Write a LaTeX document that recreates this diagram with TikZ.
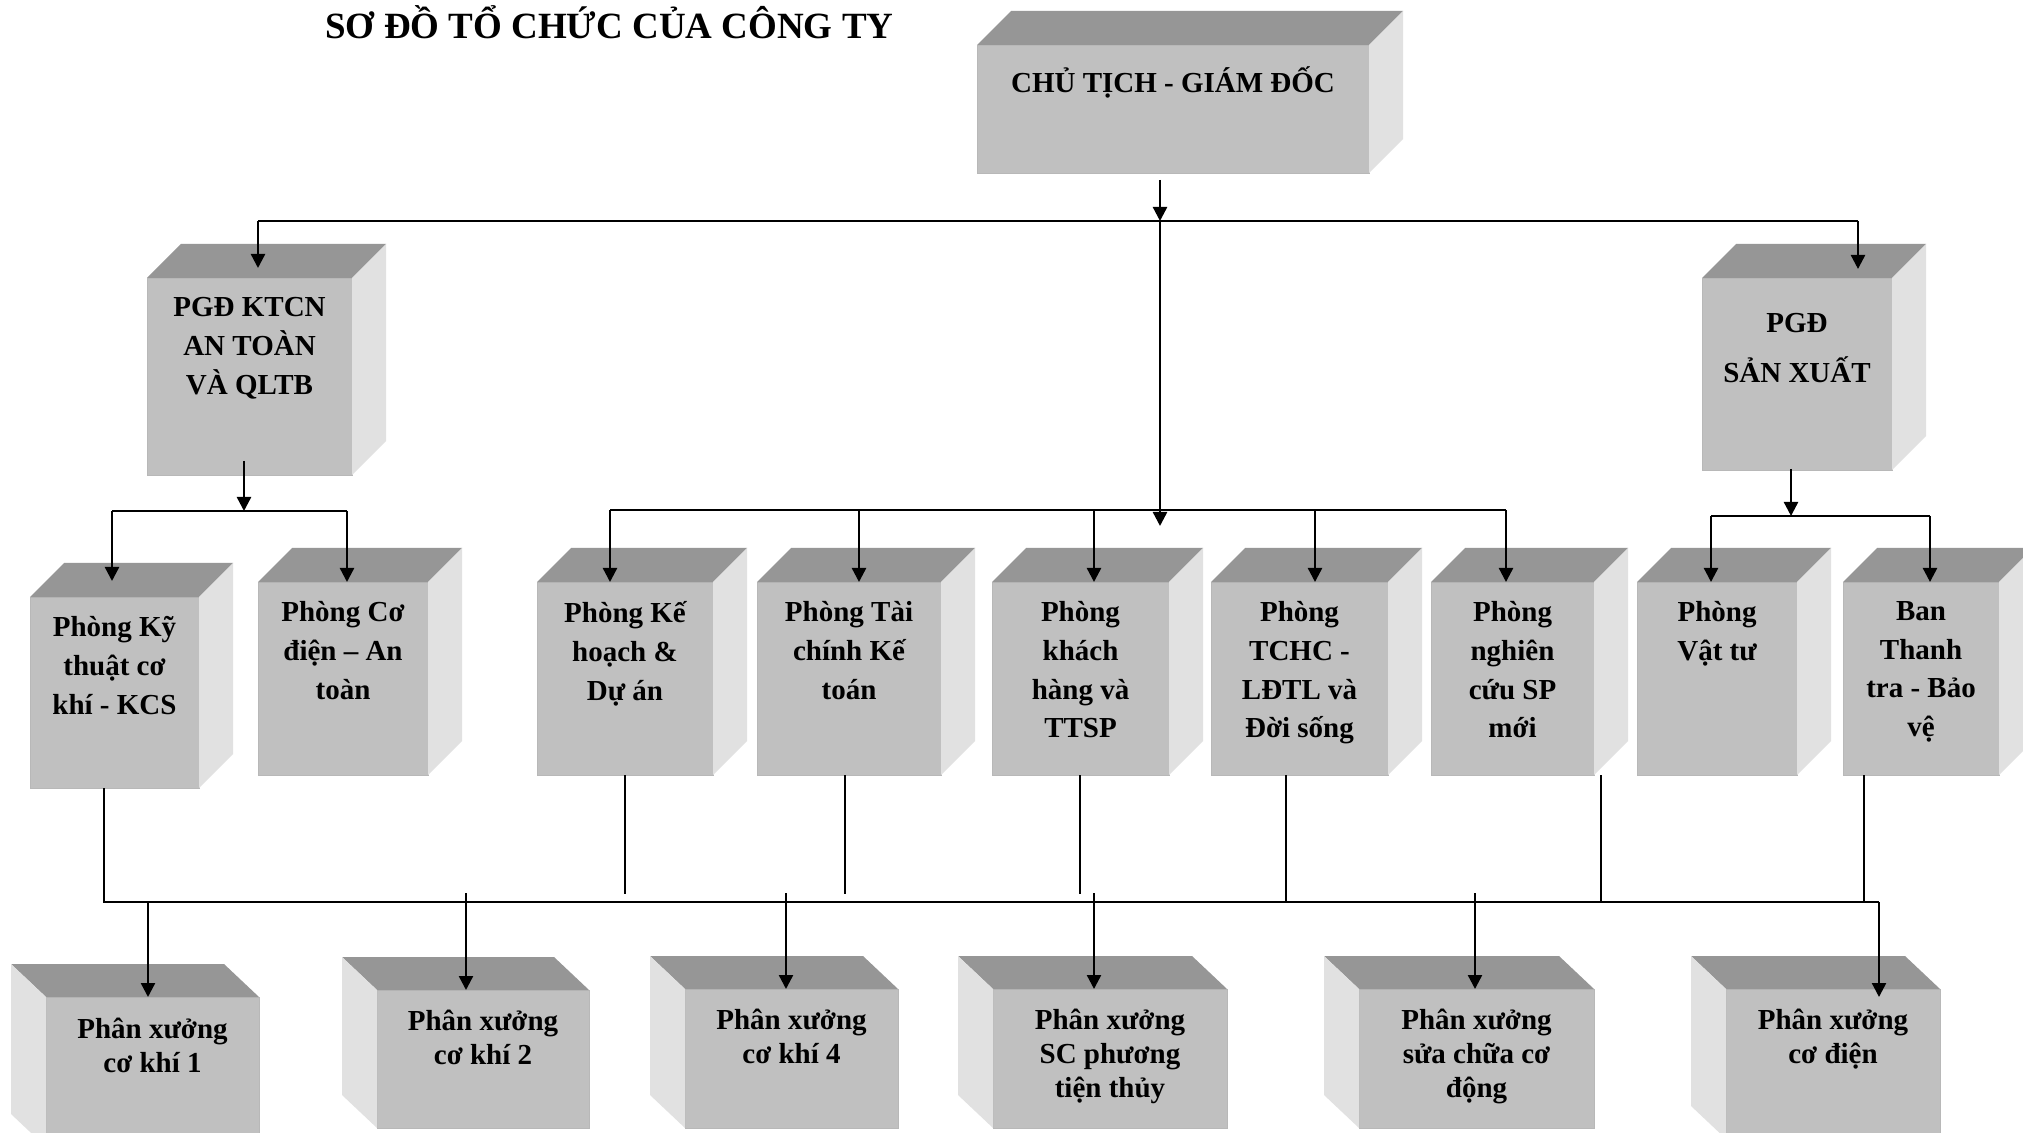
\documentclass[tikz,border=0pt]{standalone}
\usepackage{fontspec}
\setmainfont{Liberation Serif}
\usetikzlibrary{calc}
\usetikzlibrary{arrows.meta}

\definecolor{facefront}{HTML}{C0C0C0}
\definecolor{facetop}{HTML}{969696}
\definecolor{faceside}{HTML}{E1E1E1}

\tikzset{
  front/.style={fill=facefront, draw=black!28, line width=0.4pt, inner sep=0pt, outer sep=0pt},
  topface/.style={fill=facetop},
  sideface/.style={fill=faceside},
  lbl/.style={font=\fontsize{14.5}{19.4}\selectfont\bfseries, align=center, inner sep=0pt,
    execute at begin node={\rule{0pt}{14pt}}},
  lblb/.style={font=\fontsize{14.5}{17}\selectfont\bfseries, align=center, inner sep=0pt,
    execute at begin node={\rule{0pt}{14pt}}},
  ln/.style={line width=1.2pt},
  thinln/.style={line width=0.8pt},
  arr/.style={line width=1.2pt, -{Triangle[length=7pt,width=7pt]}},
}

% box, side face on the right: [text drop]{name}{x}{y}{w}{h}{text}
\newcommand{\cubeR}[7][39]{%
  \node[front, anchor=north west, minimum width=#5*0.5pt, minimum height=#6*0.5pt] (#2) at (#3,#4) {};
  \fill[topface] (#2.north west) -- ++(34,-34) -- ++(#5,0) -- (#2.north east) -- cycle;
  \fill[sideface] (#2.north east) -- ++(34,-34) -- ++(0,#6) -- (#2.south east) -- cycle;
  \node[lbl, anchor=north] (#2t) at ($(#2.north)+(0,#1-20)$) {#7};
}
% box, side face on the left (bottom row)
\newcommand{\cubeL}[7][40]{%
  \node[front, anchor=north west, minimum width=#5*0.5pt, minimum height=#6*0.5pt] (#2) at (#3,#4) {};
  \fill[topface] (#2.north east) -- ++(-35,-33) -- ++(-#5,0) -- (#2.north west) -- cycle;
  \fill[sideface] (#2.north west) -- ++(-35,-33) -- ++(0,#6) -- (#2.south west) -- cycle;
  \node[lblb, anchor=north] (#2t) at ($(#2.north)+(0,#1-20)$) {#7};
}

\begin{document}
\begin{tikzpicture}[x=0.5pt,y=-0.5pt]
  \fill[white] (0,0) rectangle (2023,1133);
  \useasboundingbox (0,0) rectangle (2023,1133);

  \node[font=\fontsize{18.5}{22}\selectfont\bfseries, anchor=base west, inner sep=0pt] (title) at (325,39) {SƠ ĐỒ TỔ CHỨC CỦA CÔNG TY};

  % top
  \cubeR{ct}{977}{45}{392}{128}{CHỦ TỊCH - GIÁM ĐỐC}
  \cubeR{pgdk}{147}{278}{205}{197}{PGĐ KTCN\\AN TOÀN\\VÀ QLTB}
  \cubeR[55]{pgds}{1702}{278}{190}{192}{PGĐ\\[5.5pt]SẢN XUẤT}

  % phong ban
  \cubeR{pkt}{30}{597}{169}{191}{Phòng Kỹ\\thuật cơ\\khí - KCS}
  \cubeR{pcd}{258}{582}{170}{193}{Phòng Cơ\\điện – An\\toàn}
  \cubeR{pkh}{537}{582}{176}{193}{Phòng Kế\\hoạch \&\\Dự án}
  \cubeR{ptc}{757}{582}{184}{193}{Phòng Tài\\chính Kế\\toán}
  \cubeR{pkhg}{992}{582}{177}{193}{Phòng\\khách\\hàng và\\TTSP}
  \cubeR{ptchc}{1211}{582}{177}{193}{Phòng\\TCHC -\\LĐTL và\\Đời sống}
  \cubeR{pnc}{1431}{582}{163}{193}{Phòng\\nghiên\\cứu SP\\mới}
  \cubeR{pvt}{1637}{582}{160}{193}{Phòng\\Vật tư}
  \cubeR{btt}{1843}{582}{156}{193}{Ban\\Thanh\\tra - Bảo\\vệ}

  % phan xuong
  \cubeL[41]{px1}{46}{997}{213}{150}{Phân xưởng\\cơ khí 1}
  \cubeL{px2}{377}{990}{212}{138}{Phân xưởng\\cơ khí 2}
  \cubeL{px4}{685}{989}{213}{139}{Phân xưởng\\cơ khí 4}
  \cubeL{pxsc}{993}{989}{234}{139}{Phân xưởng\\SC phương\\tiện thủy}
  \cubeL{pxscd}{1359}{989}{235}{139}{Phân xưởng\\sửa chữa cơ\\động}
  \cubeL{pxcd}{1726}{989}{214}{150}{Phân xưởng\\cơ điện}

  % from the director
  \coordinate (j0) at (1160,221);
  \coordinate (busL1) at (258,221);
  \coordinate (busR1) at (1858,221);
  \coordinate (midtip) at (1160,526);
  \draw[arr] ($(j0 |- ct.south)+(0,7)$) -- (j0);
  \draw[ln] (busL1) -- (busR1);
  \draw[arr] (busL1) -- ($(pgdk.north -| busL1)+(0,-10)$);
  \draw[arr] (busR1) -- ($(pgds.north -| busR1)+(0,-9)$);
  \draw[arr] (j0) -- (midtip);

  % middle bracket
  \draw[ln] (610,510) -- (1506,510);
  \foreach \n/\x in {pkh/610, ptc/859, pkhg/1094, ptchc/1315, pnc/1506}
    \draw[arr] (\x,510) -- (\n.north -| \x,510);

  % left bracket
  \coordinate (bl0) at (244,511);
  \draw[arr] ($(bl0 |- pgdk.south)+(0,-14)$) -- (bl0);
  \draw[ln] (112,511) -- (347,511);
  \draw[arr] (112,511) -- ($(pkt.north -| 112,511)+(0,-16)$);
  \draw[arr] (347,511) -- (pcd.north -| 347,511);

  % right bracket
  \coordinate (br0) at (1791,516);
  \draw[arr] ($(br0 |- pgds.south)+(0,-1)$) -- (br0);
  \draw[ln] (1711,516) -- (1930,516);
  \foreach \n/\x in {pvt/1711, btt/1930}
    \draw[arr] (\x,516) -- (\n.north -| \x,516);

  % lower bus
  \coordinate (busL2) at (104,902);
  \coordinate (busR2) at (1879,902);
  \draw[ln] (busL2 |- pkt.south) -- (busL2) -- (busR2);
  \draw[arr] (busR2) -- ($(pxcd.north -| busR2)+(0,8)$);
  \foreach \n/\x in {pkh/625, ptc/845, pkhg/1080}
    \draw[thinln] (\n.south -| \x,0) -- (\x,894);
  \foreach \n/\x in {ptchc/1286, pnc/1601, btt/1864}
    \draw[thinln] (\n.south -| \x,0) -- (\x,902);
  \draw[arr] (148,902) -- (px1.north -| 148,0);
  \foreach \n/\x in {px2/466, px4/786, pxsc/1094, pxscd/1475}
    \draw[arr] (\x,893) -- (\n.north -| \x,0);
\end{tikzpicture}
\end{document}
